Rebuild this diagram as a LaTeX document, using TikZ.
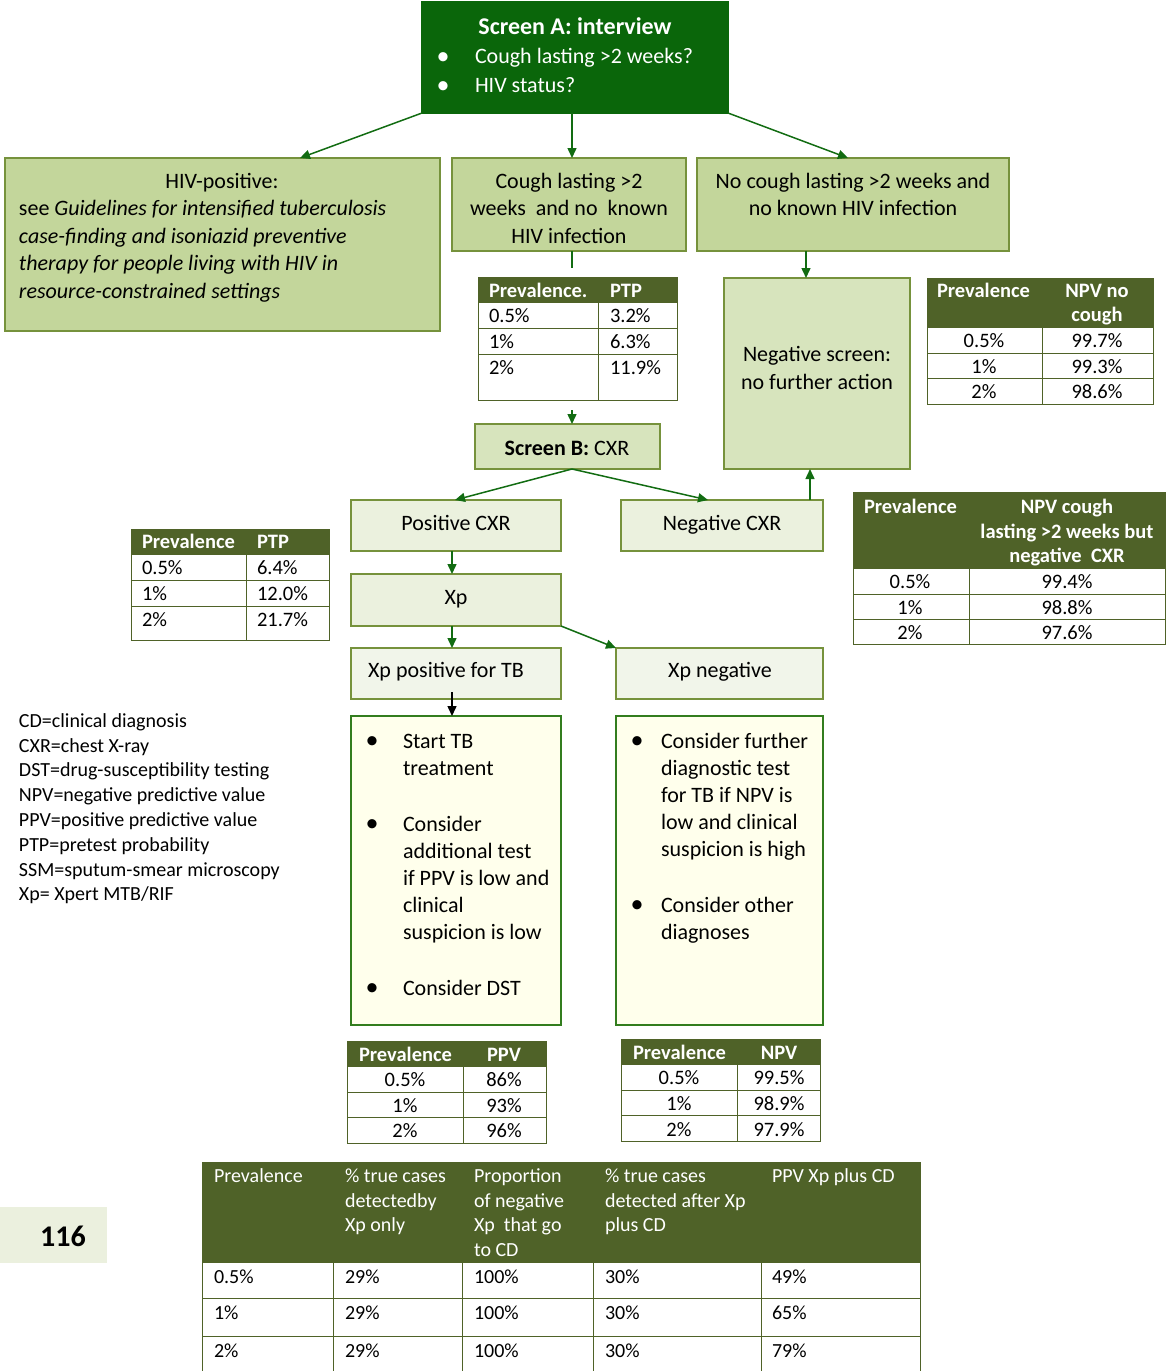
\documentclass[tikz,border=0pt]{standalone}
\usepackage{fontspec}
\setmainfont{Carlito}
\usetikzlibrary{arrows.meta,calc}
\definecolor{dkgreen}{RGB}{10,102,10}
\definecolor{arrowgreen}{RGB}{18,108,18}
\definecolor{olive}{RGB}{79,98,40}
\definecolor{boxfill}{RGB}{195,214,155}
\definecolor{boxborder}{RGB}{118,146,60}
\definecolor{midfill}{RGB}{215,228,189}
\definecolor{lightfill}{RGB}{235,241,222}
\definecolor{palefill}{RGB}{241,245,234}
\definecolor{yellowfill}{RGB}{255,255,236}
\definecolor{txtborder}{RGB}{50,125,30}
\definecolor{pagefill}{RGB}{235,240,222}
\tikzset{
  box/.style={draw=boxborder, line width=1.3pt, anchor=north west},
  tframe/.style={draw=olive, line width=1pt, anchor=north west},
  tl/.style={draw=olive, line width=1pt},
  arr/.style={draw=arrowgreen, line width=1.5pt, -{Triangle[length=10pt,width=9pt]}},
  gline/.style={draw=arrowgreen, line width=1.5pt},
  barr/.style={draw=black, line width=1.5pt, -{Triangle[length=10pt,width=9pt]}},
  txt/.style={anchor=mid, yshift=-5pt, font=\fontsize{22}{27}\selectfont},
  txtl/.style={anchor=mid west, yshift=-5pt, font=\fontsize{22}{27}\selectfont},
  bul/.style={anchor=mid, yshift=-5pt, font=\fontsize{26}{27}\selectfont},
  thl/.style={anchor=mid west, yshift=-5pt, text=white, font=\fontsize{20.5}{24}\selectfont\bfseries},
  thc/.style={anchor=mid, yshift=-5pt, text=white, font=\fontsize{20.5}{24}\selectfont\bfseries},
  tdl/.style={anchor=mid west, yshift=-5pt, font=\fontsize{20.5}{24}\selectfont},
  tdc/.style={anchor=mid, yshift=-5pt, font=\fontsize{20.5}{24}\selectfont},
  bhw/.style={anchor=mid west, yshift=-5pt, text=white, font=\fontsize{20}{24}\selectfont},
  leg/.style={anchor=mid west, yshift=-5pt, font=\fontsize{20}{24}\selectfont},
}
\begin{document}
\begin{tikzpicture}[x=1pt,y=-1pt, every node/.style={inner sep=0pt, outer sep=0pt}]
\useasboundingbox (0,0) rectangle (1165,1371);

% ---------- Screen A ----------
\node[box, draw=dkgreen, fill=dkgreen, minimum width=306pt, minimum height=111pt] (scrA) at (422,2) {};
\node[txt, text=white, font=\fontsize{24}{27}\selectfont\bfseries] (aT) at (575,27) {Screen A: interview};
\node[bul, text=white] (ab1) at (443,57) {\textbullet};
\node[txtl, text=white] (at1) at (475,56) {Cough lasting >2 weeks?};
\node[bul, text=white] (ab2) at (443,86) {\textbullet};
\node[txtl, text=white] (at2) at (475,85) {HIV status?};

% ---------- HIV positive ----------
\node[box, fill=boxfill, minimum width=435pt, minimum height=173pt] (hiv) at (5,158) {};
\node[txt] (hivT) at (222,181) {HIV-positive:};
\node[txtl] (hiv1) at (19,208) {see \textit{Guidelines for intensified tuberculosis}};
\node[txtl] (hiv2) at (19,236) {\textit{case-finding and isoniazid preventive}};
\node[txtl] (hiv3) at (19,263) {\textit{therapy for people living with HIV in}};
\node[txtl] (hiv4) at (19,291) {\textit{resource-constrained settings}};

% ---------- Cough box ----------
\node[box, fill=boxfill, minimum width=234pt, minimum height=93pt] (cough) at (452,158) {};
\node[txt] (c1) at (569,181) {Cough lasting >2};
\node[txt] (c2) at (569,208) {weeks\ \ and no\ \ known};
\node[txt] (c3) at (569,236) {HIV infection};

% ---------- No cough box ----------
\node[box, fill=boxfill, minimum width=312pt, minimum height=93pt] (nocough) at (697,158) {};
\node[txt] (n1) at (853,181) {No cough lasting >2 weeks and};
\node[txt] (n2) at (853,208) {no known HIV infection};

% ---------- Negative screen ----------
\node[box, fill=midfill, minimum width=186pt, minimum height=191pt] (negscr) at (724,278) {};
\node[txt] (ns1) at (817,354) {Negative screen:};
\node[txt] (ns2) at (817,382) {no further action};

% ---------- Screen B ----------
\node[box, fill=midfill, minimum width=185pt, minimum height=45pt] (scrB) at (475,424) {};
\node[txt] (sB) at (567,448) {\textbf{Screen B:} CXR};

% ---------- CXR results ----------
\node[box, fill=lightfill, minimum width=210pt, minimum height=51pt] (poscxr) at (351,500) {};
\node[txt] (pc) at (456,523) {Positive CXR};
\node[box, fill=lightfill, minimum width=202pt, minimum height=51pt] (negcxr) at (621,500) {};
\node[txt] (nc) at (722,523) {Negative CXR};

% ---------- Xp ----------
\node[box, fill=lightfill, minimum width=210pt, minimum height=52pt] (xp) at (351,574) {};
\node[txt] (xpt) at (456,597) {Xp};
\node[box, fill=palefill, minimum width=210pt, minimum height=51pt] (xppos) at (351,648) {};
\node[txt] (xppt) at (446,670) {Xp positive for TB};
\node[box, fill=palefill, minimum width=207pt, minimum height=51pt] (xpneg) at (616,648) {};
\node[txt] (xpnt) at (720,670) {Xp negative};

% ---------- Action boxes ----------
\node[box, draw=txtborder, fill=yellowfill, minimum width=210pt, minimum height=309pt] (startTB) at (351,716) {};
\foreach \t/\y [count=\i] in {Start TB/741, treatment/768, Consider/824, additional test/851, if PPV is low and/878, clinical/905, suspicion is low/932, Consider DST/988}
  {\node[txtl] (st\i) at (403,\y) {\t};}
\node[bul] (sb1) at (372,741) {\textbullet};
\node[bul] (sb2) at (372,824) {\textbullet};
\node[bul] (sb3) at (372,988) {\textbullet};

\node[box, draw=txtborder, fill=yellowfill, minimum width=207pt, minimum height=309pt] (negTB) at (616,716) {};
\foreach \t/\y [count=\i] in {Consider further/741, diagnostic test/768, for TB if NPV is/795, low and clinical/822, suspicion is high/849, Consider other/905, diagnoses/932}
  {\node[txtl] (nt\i) at (661,\y) {\t};}
\node[bul] (nb1) at (637,741) {\textbullet};
\node[bul] (nb2) at (637,905) {\textbullet};

% ---------- Legend ----------
\foreach \t [count=\i] in {CD=clinical diagnosis, CXR=chest X-ray, DST=drug-susceptibility testing, NPV=negative predictive value, PPV=positive predictive value, PTP=pretest probability, SSM=sputum-smear microscopy, Xp= Xpert MTB/RIF}
  {\node[leg] (lg\i) at (19,{720+24.8*(\i-1)}) {\t};}

% ---------- Table 1: PTP (cough) ----------
\fill[olive] (478,277) rectangle (677,302);
\node[tframe, minimum width=199pt, minimum height=123pt] (T1) at (478,277) {};
\draw[tl] (478,302) -- (677,302) (478,328) -- (677,328) (478,354) -- (677,354) (598,302) -- (598,400);
\node[thl] (t1h1) at (489,290) {Prevalence.};
\node[thl] (t1h2) at (610,290) {PTP};
\foreach \a/\b/\y [count=\i] in {0.5\%/3.2\%/315, 1\%/6.3\%/341, 2\%/11.9\%/367}
  {\node[tdl] (t1a\i) at (489,\y) {\a}; \node[tdl] (t1b\i) at (610,\y) {\b};}

% ---------- Table 2: NPV no cough ----------
\fill[olive] (927,278) rectangle (1153,327);
\node[tframe, minimum width=226pt, minimum height=126pt] (T2) at (927,278) {};
\draw[tl] (927,327) -- (1153,327) (927,353) -- (1153,353) (927,378) -- (1153,378) (1042,327) -- (1042,404);
\node[thl] (t2h1) at (937,290) {Prevalence};
\node[thc] (t2h2) at (1097,290) {NPV no};
\node[thc] (t2h3) at (1097,314) {cough};
\foreach \a/\b/\y [count=\i] in {0.5\%/99.7\%/340, 1\%/99.3\%/366, 2\%/98.6\%/391}
  {\node[tdc] (t2a\i) at (984,\y) {\a}; \node[tdc] (t2b\i) at (1097,\y) {\b};}

% ---------- Table 3: NPV cough, negative CXR ----------
\fill[olive] (853,492) rectangle (1165,568);
\node[tframe, minimum width=312pt, minimum height=152pt] (T3) at (853,492) {};
\draw[tl] (853,568) -- (1165,568) (853,594) -- (1165,594) (853,619) -- (1165,619) (969,568) -- (969,644);
\node[thl] (t3h1) at (864,506) {Prevalence};
\node[thc] (t3h2) at (1067,506) {NPV cough};
\node[thc] (t3h3) at (1067,531) {lasting >2 weeks but};
\node[thc] (t3h4) at (1067,555) {negative\ \ CXR};
\foreach \a/\b/\y [count=\i] in {0.5\%/99.4\%/581, 1\%/98.8\%/607, 2\%/97.6\%/632}
  {\node[tdc] (t3a\i) at (910,\y) {\a}; \node[tdc] (t3b\i) at (1067,\y) {\b};}

% ---------- Table 4: PTP (CXR) ----------
\fill[olive] (131,529) rectangle (329,554);
\node[tframe, minimum width=198pt, minimum height=111pt] (T4) at (131,529) {};
\draw[tl] (131,554) -- (329,554) (131,580) -- (329,580) (131,606) -- (329,606) (246,554) -- (246,640);
\node[thl] (t4h1) at (142,541) {Prevalence};
\node[thl] (t4h2) at (257,541) {PTP};
\foreach \a/\b/\y [count=\i] in {0.5\%/6.4\%/567, 1\%/12.0\%/593, 2\%/21.7\%/619}
  {\node[tdl] (t4a\i) at (142,\y) {\a}; \node[tdl] (t4b\i) at (257,\y) {\b};}

% ---------- Table 5: PPV ----------
\fill[olive] (347,1041) rectangle (546,1066);
\node[tframe, minimum width=199pt, minimum height=102pt] (T5) at (347,1041) {};
\draw[tl] (347,1066) -- (546,1066) (347,1092) -- (546,1092) (347,1117) -- (546,1117) (463,1066) -- (463,1143);
\node[thl] (t5h1) at (359,1054) {Prevalence};
\node[thc] (t5h2) at (504,1054) {PPV};
\foreach \a/\b/\y [count=\i] in {0.5\%/86\%/1079, 1\%/93\%/1105, 2\%/96\%/1130}
  {\node[tdc] (t5a\i) at (405,\y) {\a}; \node[tdc] (t5b\i) at (504,\y) {\b};}

% ---------- Table 6: NPV ----------
\fill[olive] (621,1039) rectangle (820,1064);
\node[tframe, minimum width=199pt, minimum height=102pt] (T6) at (621,1039) {};
\draw[tl] (621,1064) -- (820,1064) (621,1090) -- (820,1090) (621,1115) -- (820,1115) (737,1064) -- (737,1141);
\node[thl] (t6h1) at (633,1052) {Prevalence};
\node[thc] (t6h2) at (779,1052) {NPV};
\foreach \a/\b/\y [count=\i] in {0.5\%/99.5\%/1077, 1\%/98.9\%/1103, 2\%/97.9\%/1129}
  {\node[tdc] (t6a\i) at (679,\y) {\a}; \node[tdc] (t6b\i) at (779,\y) {\b};}

% ---------- Table 7: bottom ----------
\fill[olive] (202,1162) rectangle (920,1262);
\node[tframe, minimum width=718pt, minimum height=209pt] (T7) at (202,1162) {};
\draw[tl] (202,1262) -- (920,1262) (202,1298) -- (920,1298) (202,1336) -- (920,1336)
  (333,1262) -- (333,1371) (462,1262) -- (462,1371) (593,1262) -- (593,1371) (761,1262) -- (761,1371);
\node[bhw] (t7h1) at (214,1175) {Prevalence};
\foreach \t [count=\i] in {\% true cases, detectedby, Xp only}
  {\node[bhw] (t7c\i) at (345,{1175+24.7*(\i-1)}) {\t};}
\foreach \t [count=\i] in {Proportion, of negative, Xp\ \ that go, to CD}
  {\node[bhw] (t7d\i) at (474,{1175+24.7*(\i-1)}) {\t};}
\foreach \t [count=\i] in {\% true cases, detected after Xp, plus CD}
  {\node[bhw] (t7e\i) at (605,{1175+24.7*(\i-1)}) {\t};}
\node[bhw] (t7f1) at (772,1175) {PPV Xp plus CD};
\foreach \a/\b/\c/\d/\e/\y [count=\i] in {0.5\%/29\%/100\%/30\%/49\%/1276, 1\%/29\%/100\%/30\%/65\%/1312, 2\%/29\%/100\%/30\%/79\%/1350}
  {\node[leg] (r\i a) at (214,\y) {\a};
   \node[leg] (r\i b) at (345,\y) {\b};
   \node[leg] (r\i c) at (474,\y) {\c};
   \node[leg] (r\i d) at (605,\y) {\d};
   \node[leg] (r\i e) at (772,\y) {\e};}

% ---------- page number ----------
\node[anchor=north west, fill=pagefill, minimum width=107pt, minimum height=56pt] (pg) at (0,1207) {};
\node[anchor=mid, yshift=-7pt, font=\fontsize{30}{34}\selectfont\bfseries] (pgt) at (63,1237) {116};

% ---------- Connectors ----------
\draw[arr] (scrA.south west) -- ($(hiv.north west)+(295,0)$);
\draw[arr] ($(scrA.south)+(-3,0)$) -- ($(cough.north)+(3,0)$);
\draw[arr] (scrA.south east) -- ($(nocough.north)+(-5,0)$);
\coordinate (cstub) at (572,268);
\draw[gline] ($(cough.south)+(3,0)$) -- (cstub);
\draw[arr] ($(T1.south)+(-5.5,10)$) -- ($(scrB.north)+(4.5,0)$);
\draw[arr] ($(scrB.south)+(4.5,0)$) -- ($(poscxr.north)+(-1,0)$);
\draw[arr] ($(scrB.south)+(4.5,0)$) -- ($(negcxr.north)+(-14,0)$);
\draw[arr] ($(negcxr.north)+(88,0)$) -- ($(negscr.south)+(-7,0)$);
\draw[arr] ($(nocough.south)+(-47,0)$) -- ($(negscr.north)+(-11,0)$);
\draw[arr] ($(poscxr.south)+(-4,0)$) -- ($(xp.north)+(-4,0)$);
\draw[arr] ($(xp.south)+(-4,0)$) -- ($(xppos.north)+(-4,0)$);
\draw[arr] (xp.south east) -- (xpneg.north west);
\draw[barr] ($(xppos.south)+(-4,-7)$) -- ($(startTB.north)+(-4,0)$);
\end{tikzpicture}
\end{document}
